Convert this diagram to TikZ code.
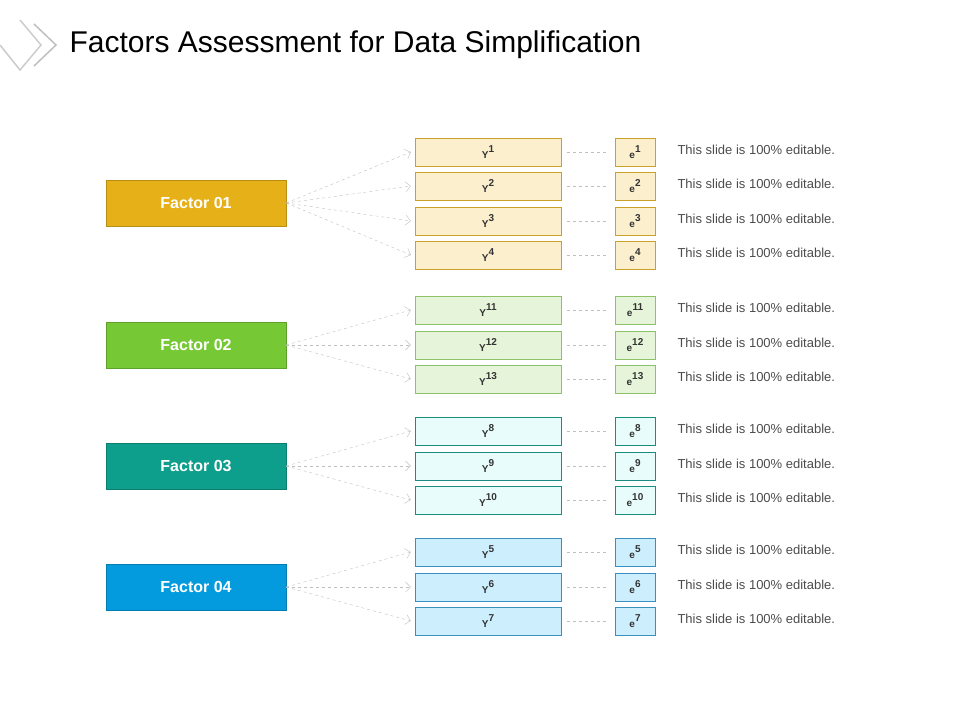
\documentclass[tikz,border=0pt]{standalone}
\usepackage{fontspec}
\setmainfont{Liberation Sans}
\usepackage{xcolor}
\usetikzlibrary{positioning}
\usetikzlibrary{arrows.meta}
\definecolor{goldF}{HTML}{E6B118}\definecolor{goldL}{HTML}{FBEFCD}\definecolor{goldD}{HTML}{C9A227}
\definecolor{greenF}{HTML}{76C935}\definecolor{greenL}{HTML}{E6F4DA}\definecolor{greenD}{HTML}{8DC26B}
\definecolor{tealF}{HTML}{0E9E8C}\definecolor{tealL}{HTML}{E8FDFB}\definecolor{tealD}{HTML}{1A8C80}
\definecolor{blueF}{HTML}{039BDD}\definecolor{blueL}{HTML}{CDEEFC}\definecolor{blueD}{HTML}{3A8FBF}
\tikzset{
  factor/.style={draw=#1!80!black,fill=#1,minimum width=180pt,minimum height=46pt,text=white,font=\fontsize{16}{18}\selectfont\bfseries},
  ybox/.style={draw=#1,minimum width=146pt,minimum height=28pt,inner sep=0pt},
  ebox/.style={draw=#1,minimum width=40pt,minimum height=28pt,inner sep=0pt},
  lbl/.style={font=\fontsize{10}{12}\selectfont\bfseries,text=black!80},
  note/.style={anchor=west,font=\fontsize{13}{15}\selectfont,text=black!70},
  link/.style={draw=black!25,dashed,-{Straight Barb[length=5pt,width=10pt]}},
  tie/.style={draw=black!25,dashed}
}
\begin{document}
\begin{tikzpicture}[x=1pt,y=-1pt]
\useasboundingbox (0,0) rectangle (960,720);
% title and logo
\draw[black!20,line width=1.5pt] (20,20) -- (41,45) -- (20,70) -- (0,45);
\draw[black!25,line width=1.5pt] (34,24) -- (56,45) -- (34,66);
\node[anchor=west,font=\fontsize{30}{34}\selectfont] (title) at (66,45) {Factors Assessment for Data Simplification};
% factors
\foreach \f/\yc/\c in {1/203/gold,2/345/green,3/466/teal,4/587/blue}
  \node[factor=\c F] (f\f) at (196,\yc) {Factor 0\f};
% items: index / y / factor / colour
\foreach \i/\yc/\f/\c in {1/152/1/gold,2/186/1/gold,3/221/1/gold,4/255/1/gold,
    11/310/2/green,12/345/2/green,13/379/2/green,
    8/431/3/teal,9/466/3/teal,10/500/3/teal,
    5/552/4/blue,6/587/4/blue,7/621/4/blue}{
  \node[ybox=\c D,fill=\c L] (y\i) at (488,\yc) {};
  \node[lbl] at (y\i) {Y\raisebox{1.2ex}{\i}};
  \node[ebox=\c D,fill=\c L] (e\i) at (635,\yc) {};
  \node[lbl] at (e\i) {e\raisebox{1.2ex}{\i}};
  \node[note] (n\i) at (674,\yc-2) {This slide is 100\% editable.};
  \path[link] (f\f.east) -- ([xshift=-4pt]y\i.west);
  \path[tie] ([xshift=6pt]y\i.east) -- ([xshift=-6pt]e\i.west);
}
\end{tikzpicture}
\end{document}
